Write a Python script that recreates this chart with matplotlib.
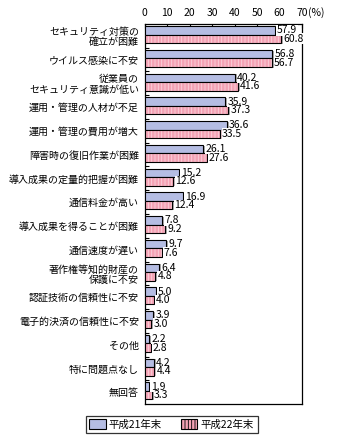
import numpy as np
import matplotlib
matplotlib.use('Agg')
import matplotlib.pyplot as plt
from matplotlib.patches import Patch
import matplotlib.patheffects as pe

plt.rcParams['font.family'] = ['Noto Sans CJK JP', 'DejaVu Sans']

categories = [
    'セキュリティ対策の\n確立が困難',
    'ウイルス感染に不安',
    '従業員の\nセキュリティ意識が低い',
    '運用・管理の人材が不足',
    '運用・管理の費用が増大',
    '障害時の復旧作業が困難',
    '導入成果の定量的把握が困難',
    '通信料金が高い',
    '導入成果を得ることが困難',
    '通信速度が遅い',
    '著作権等知的財産の\n保護に不安',
    '認証技術の信頼性に不安',
    '電子的決済の信頼性に不安',
    'その他',
    '特に問題点なし',
    '無回答',
]
h21 = [57.9, 56.8, 40.2, 35.9, 36.6, 26.1, 15.2, 16.9, 7.8, 9.7, 6.4, 5.0, 3.9, 2.2, 4.2, 1.9]
h22 = [60.8, 56.7, 41.6, 37.3, 33.5, 27.6, 12.6, 12.4, 9.2, 7.6, 4.8, 4.0, 3.0, 2.8, 4.4, 3.3]
series_names = ['平成21年末', '平成22年末']
xticks = [0, 10, 20, 30, 40, 50, 60, 70]

blue = '#b5bde3'
pink = '#f4a3b5'
stripe = '#fbd3dc'
plt.rcParams['hatch.color'] = stripe
plt.rcParams['hatch.linewidth'] = 0.6

fig = plt.figure(figsize=(3.39, 4.46), dpi=100)
ax = fig.add_axes([144.5 / 339, 42 / 446, 157.5 / 339, 380 / 446])

y = np.arange(len(categories))
bh = 0.36
shadow = [pe.SimplePatchShadow(offset=(1.2, -0.6), shadow_rgbFace='#888888', alpha=0.7), pe.Normal()]

b1 = ax.barh(y - 0.235, h21, height=bh, color=blue, edgecolor='black', linewidth=0.8, zorder=3)
for p in b1:
    p.set_path_effects(shadow)
b2 = ax.barh(y + 0.125, h22, height=bh, color=pink, edgecolor=stripe, hatch='|||||', linewidth=0, zorder=3)
for p in b2:
    p.set_path_effects(shadow)
ax.barh(y + 0.125, h22, height=bh, fill=False, edgecolor='black', linewidth=0.8, zorder=4)

for yi, v in zip(y, h21):
    ax.annotate(f'{v:.1f}', (v, yi - 0.235), xytext=(1.5, 0), textcoords='offset points',
                ha='left', va='center', fontsize=7.5, zorder=6, annotation_clip=False,
                bbox=dict(facecolor='white', edgecolor='none', pad=0.3))
for yi, v in zip(y, h22):
    ax.annotate(f'{v:.1f}', (v, yi + 0.125), xytext=(1.5, 0), textcoords='offset points',
                ha='left', va='center', fontsize=7.5, zorder=6, annotation_clip=False,
                bbox=dict(facecolor='white', edgecolor='none', pad=0.3))

ax.set_xlim(0, 70)
ax.set_ylim(len(categories) - 0.5, -0.5)
ax.xaxis.tick_top()
ax.set_xticks(xticks)
ax.set_xticklabels([str(t) for t in xticks], fontsize=7.5)
ax.tick_params(axis='x', direction='in', length=3, width=0.8, pad=4)
# unit after the last tick label
ax.annotate('(%)', (1, 1), xycoords='axes fraction', xytext=(4.5, 4), textcoords='offset points',
            fontsize=7.5, ha='left', va='bottom', annotation_clip=False)

# category labels, separators between groups
ax.set_yticks(y)
ax.set_yticklabels(categories, fontsize=7.2, linespacing=1.05)
ax.tick_params(axis='y', length=0, pad=4)
ax.set_yticks(np.arange(len(categories) - 1) + 0.5, minor=True)
ax.tick_params(axis='y', which='minor', direction='in', length=3, width=0.8)

for s in ax.spines.values():
    s.set_linewidth(0.9)

handles = [Patch(facecolor=blue, edgecolor='black', linewidth=0.8),
           Patch(facecolor=pink, edgecolor='black', linewidth=0.8, hatch='|||||')]
leg = fig.legend(handles, series_names, loc='center', ncol=2,
                 bbox_to_anchor=(171.5 / 339, 1 - 424.5 / 446),
                 fontsize=7.5, frameon=True, fancybox=False, edgecolor='black',
                 handlelength=1.6, handleheight=1.0, handletextpad=0.3,
                 columnspacing=1.8, borderpad=0.35)
leg.get_frame().set_linewidth(0.9)

fig.savefig('out.png', dpi=100)
